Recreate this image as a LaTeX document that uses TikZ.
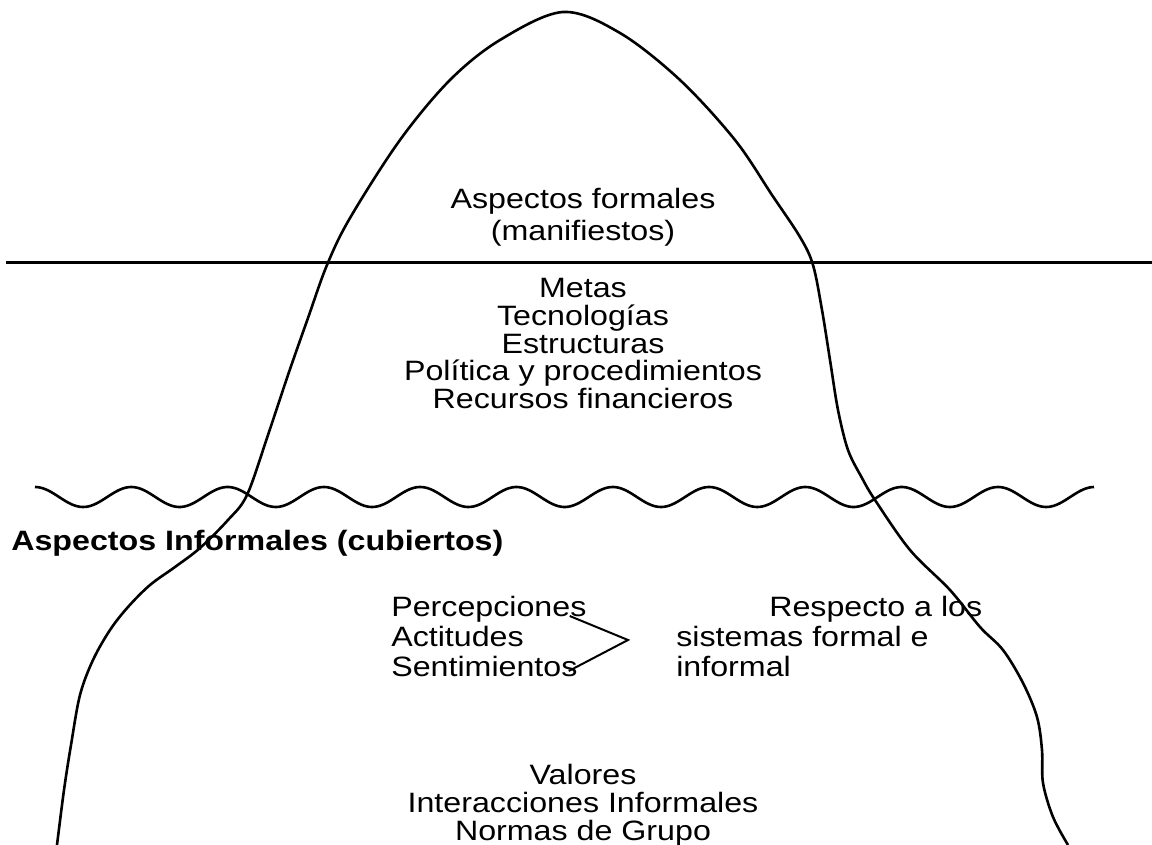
\documentclass[tikz,border=0pt]{standalone}
\usepackage{fontspec}
\setmainfont{Liberation Sans}[FakeStretch=1.15]
\usepackage{tikz}

\begin{document}
\begin{tikzpicture}[x=1pt,y=-1pt,line width=2.6pt,
    lbl/.style={anchor=base,inner sep=0pt,font=\fontsize{28}{30}\selectfont},
    lbll/.style={lbl,anchor=base west}]
  \pgfmathsetmacro{\sea}{263}  % surface line [px]
  \pgfmathsetmacro{\wy}{497}   % wave centre [px]
  \pgfmathsetmacro{\wa}{10}    % wave amplitude [px]
  \pgfmathsetmacro{\wk}{360/96.3}  % wave number [deg/px]
  \pgfmathsetmacro{\cx}{583}   % centre column [px]

  \useasboundingbox (0,0) rectangle (1152,845);

  % surface
  \coordinate (L) at (6,\sea);
  \coordinate (R) at (1152,\sea);
  \draw[line width=3pt] (L) -- (R);

  % waves
  \draw[domain=35:1094,samples=400,smooth] plot (\x,{\wy-\wa*cos(\wk*(\x-35))});

  % iceberg outline
  \draw plot[smooth,tension=.55] coordinates {
    (57,845) (64,790) (71,745) (80,695) (93,660) (110,630) (128,607) (150,585)
    (175,567) (200,548) (228,520) (247,495) (268,435) (288,375) (308,318)
    (327,265) (350,218) (400,140) (450,80) (500,40) (563,12) (620,33)
    (680,80) (735,140) (772,195) (800,237) (813,265) (822,310) (830,360)
    (838,410) (848,450) (862,478) (875,500) (910,550) (950,590) (980,627)
    (1003,650) (1023,683) (1037,717) (1042,750) (1043,783) (1053,817) (1068,845)};

  % above the surface
  \node[lbl] (f1) at (\cx,209) {Aspectos formales};
  \node[lbl] (f2) at (\cx,241) {(manifiestos)};

  % visible part
  \foreach \txt [count=\k] in {Metas,Tecnologías,Estructuras,Política y procedimientos,Recursos financieros}
    \node[lbl] (m\k) at (\cx,270.5+27.5*\k) {\txt};

  % below the waves
  \node[lbll] (inf) at (10,550) {\bfseries Aspectos Informales (cubiertos)};

  \foreach \txt [count=\k] in {Percepciones,Actitudes,Sentimientos}
    \node[lbll] (p\k) at (390,586+30*\k) {\txt};

  \node[lbll] (r1) at (768,616) {Respecto a los};
  \node[lbll] (r2) at (675,646) {sistemas formal e};
  \node[lbll] (r3) at (675,676) {informal};

  \coordinate (tip) at (628,640);
  \draw[line width=2pt] ([xshift=-18pt]p1.base east) -- (tip) -- ([xshift=-10pt,yshift=5pt]p3.base east);

  \foreach \txt [count=\k] in {Valores,Interacciones Informales,Normas de Grupo}
    \node[lbl] (v\k) at (\cx,756+28*\k) {\txt};
\end{tikzpicture}
\end{document}
